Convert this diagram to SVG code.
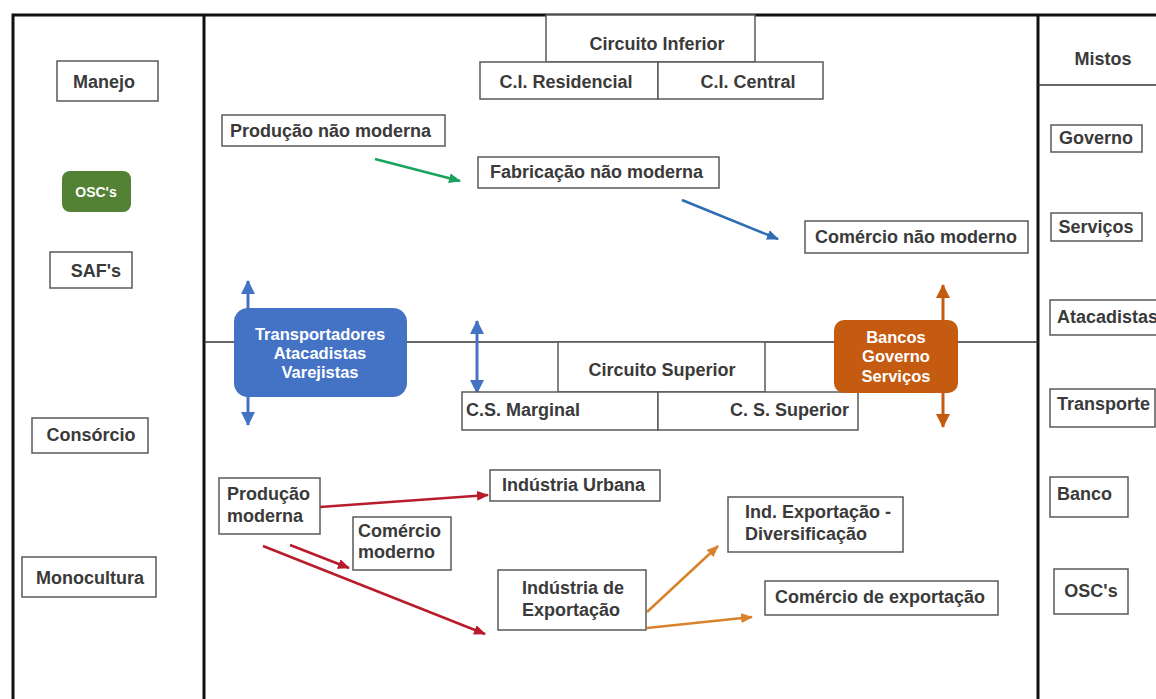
<svg xmlns="http://www.w3.org/2000/svg" width="1156" height="699" viewBox="0 0 1156 699">
<style>
.frame{stroke:#111;stroke-width:3;fill:none}
.thin{stroke:#333;stroke-width:1.5;fill:none}
.box{fill:#fff;stroke:#595959;stroke-width:1.5}
.t{font-family:"Liberation Sans",Arial,sans-serif;font-weight:bold;font-size:18px;fill:#3a3a3a}
.c{text-anchor:middle}
.w{font-family:"Liberation Sans",Arial,sans-serif;font-weight:bold;font-size:16.5px;fill:#fff;text-anchor:middle}
.a{fill:none;stroke-width:2.5}
</style>
<defs>
<marker id="mg" markerUnits="userSpaceOnUse" markerWidth="12" markerHeight="10" refX="11" refY="5" orient="auto"><path d="M0,0 L12,5 L0,10 z" fill="#1aa35c"/></marker>
<marker id="mb" markerUnits="userSpaceOnUse" markerWidth="12" markerHeight="10" refX="11" refY="5" orient="auto"><path d="M0,0 L12,5 L0,10 z" fill="#2e6db4"/></marker>
<marker id="mr" markerUnits="userSpaceOnUse" markerWidth="12" markerHeight="10" refX="11" refY="5" orient="auto"><path d="M0,0 L12,5 L0,10 z" fill="#b81c2a"/></marker>
<marker id="mo" markerUnits="userSpaceOnUse" markerWidth="12" markerHeight="10" refX="11" refY="5" orient="auto"><path d="M0,0 L12,5 L0,10 z" fill="#d9822b"/></marker>
<marker id="mlb" markerUnits="userSpaceOnUse" markerWidth="14" markerHeight="14" refX="13" refY="7" orient="auto-start-reverse"><path d="M0,0 L14,7 L0,14 z" fill="#4472c4"/></marker>
<marker id="mor" markerUnits="userSpaceOnUse" markerWidth="14" markerHeight="14" refX="13" refY="7" orient="auto-start-reverse"><path d="M0,0 L14,7 L0,14 z" fill="#c55a11"/></marker>
</defs>
<rect width="1156" height="699" fill="#fff"/>
<g id="frame">
<path class="frame" d="M13,699 V15 H1156"/>
<path class="frame" d="M204,15 V699"/>
<path class="frame" d="M1038,15 V699"/>
<path class="thin" d="M1038,85 H1156"/>
<path class="thin" d="M204,342 H1038"/>
</g>
<g id="connectors">
<line class="a" x1="375" y1="159" x2="460" y2="181" stroke="#1aa35c" marker-end="url(#mg)"/>
<line class="a" x1="682" y1="200" x2="778" y2="239" stroke="#2e6db4" marker-end="url(#mb)"/>
<line class="a" x1="320" y1="507" x2="488" y2="495" stroke="#b81c2a" marker-end="url(#mr)"/>
<line class="a" x1="290" y1="545" x2="349" y2="568" stroke="#b81c2a" marker-end="url(#mr)"/>
<line class="a" x1="263" y1="546" x2="485" y2="634" stroke="#b81c2a" marker-end="url(#mr)"/>
<line class="a" x1="647" y1="612" x2="718" y2="546" stroke="#d9822b" marker-end="url(#mo)"/>
<line class="a" x1="647" y1="628" x2="752" y2="617" stroke="#d9822b" marker-end="url(#mo)"/>
<line x1="248" y1="281" x2="248" y2="425" stroke="#4472c4" stroke-width="3" marker-start="url(#mlb)" marker-end="url(#mlb)"/>
<line x1="477" y1="321" x2="477" y2="393" stroke="#4472c4" stroke-width="3" marker-start="url(#mlb)" marker-end="url(#mlb)"/>
<line x1="943" y1="285" x2="943" y2="427" stroke="#c55a11" stroke-width="3" marker-start="url(#mor)" marker-end="url(#mor)"/>
</g>
<g id="circuito-inferior">
<rect class="box" x="546" y="15" width="209" height="47"/>
<text class="t c" x="657" y="50">Circuito Inferior</text>
</g>
<g id="ci-residencial">
<rect class="box" x="480" y="62" width="178" height="37"/>
<text class="t c" x="566" y="88">C.I. Residencial</text>
</g>
<g id="ci-central">
<rect class="box" x="658" y="62" width="165" height="37"/>
<text class="t c" x="748" y="88">C.I. Central</text>
</g>
<g id="producao-nao-moderna">
<rect class="box" x="222" y="115" width="223" height="31"/>
<text class="t" x="230" y="137">Produção não moderna</text>
</g>
<g id="fabricacao-nao-moderna">
<rect class="box" x="478" y="157" width="241" height="31"/>
<text class="t" x="490" y="178">Fabricação não moderna</text>
</g>
<g id="comercio-nao-moderno">
<rect class="box" x="805" y="221" width="223" height="32"/>
<text class="t" x="815" y="243">Comércio não moderno</text>
</g>
<g id="manejo">
<rect class="box" x="57" y="61" width="101" height="40"/>
<text class="t c" x="104" y="88">Manejo</text>
</g>
<g id="oscs-left">
<rect x="62" y="171" width="69" height="41" rx="8" fill="#548235"/>
<text x="96" y="197" font-family="Liberation Sans,Arial,sans-serif" font-weight="bold" font-size="14" fill="#fff" text-anchor="middle">OSC's</text>
</g>
<g id="safs">
<rect class="box" x="50" y="252" width="82" height="36"/>
<text class="t c" x="96" y="277">SAF's</text>
</g>
<g id="consorcio">
<rect class="box" x="32" y="418" width="116" height="35"/>
<text class="t c" x="91" y="441">Consórcio</text>
</g>
<g id="monocultura">
<rect class="box" x="22" y="557" width="134" height="40"/>
<text class="t c" x="90" y="584">Monocultura</text>
</g>
<g id="transportadores">
<rect x="234" y="308" width="173" height="89" rx="14" fill="#4472c4"/>
<text class="w" x="320" y="340">Transportadores</text>
<text class="w" x="320" y="359">Atacadistas</text>
<text class="w" x="320" y="378">Varejistas</text>
</g>
<g id="circuito-superior">
<rect class="box" x="558" y="342" width="207" height="50"/>
<text class="t c" x="662" y="376">Circuito Superior</text>
</g>
<g id="cs-marginal">
<rect class="box" x="462" y="392" width="196" height="38"/>
<text class="t" x="466" y="416">C.S. Marginal</text>
</g>
<g id="cs-superior">
<rect class="box" x="658" y="392" width="200" height="38"/>
<text class="t" x="849" y="416" text-anchor="end">C. S. Superior</text>
</g>
<g id="bancos">
<rect x="834" y="320" width="124" height="73" rx="10" fill="#c55a11"/>
<text class="w" x="896" y="343">Bancos</text>
<text class="w" x="896" y="362">Governo</text>
<text class="w" x="896" y="382">Serviços</text>
</g>
<g id="producao-moderna">
<rect class="box" x="219" y="478" width="101" height="56"/>
<text class="t" x="227" y="500">Produção</text>
<text class="t" x="227" y="522">moderna</text>
</g>
<g id="comercio-moderno">
<rect class="box" x="353" y="517" width="98" height="53"/>
<text class="t" x="358" y="537">Comércio</text>
<text class="t" x="358" y="558">moderno</text>
</g>
<g id="industria-urbana">
<rect class="box" x="490" y="470" width="170" height="31"/>
<text class="t" x="502" y="491">Indústria Urbana</text>
</g>
<g id="industria-exportacao">
<rect class="box" x="498" y="570" width="148" height="60"/>
<text class="t" x="522" y="594">Indústria de</text>
<text class="t" x="522" y="616">Exportação</text>
</g>
<g id="ind-exportacao-diversificacao">
<rect class="box" x="728" y="497" width="175" height="55"/>
<text class="t" x="745" y="518">Ind. Exportação -</text>
<text class="t" x="745" y="540">Diversificação</text>
</g>
<g id="comercio-exportacao">
<rect class="box" x="765" y="581" width="233" height="34"/>
<text class="t" x="775" y="603">Comércio de exportação</text>
</g>
<g id="mistos">
<text class="t c" x="1103" y="65">Mistos</text>
</g>
<g id="governo">
<rect class="box" x="1051" y="125" width="91" height="27"/>
<text class="t c" x="1096" y="144">Governo</text>
</g>
<g id="servicos">
<rect class="box" x="1051" y="213" width="91" height="28"/>
<text class="t c" x="1096" y="233">Serviços</text>
</g>
<g id="atacadistas">
<rect class="box" x="1050" y="300" width="110" height="35"/>
<text class="t" x="1057" y="323">Atacadistas</text>
</g>
<g id="transporte">
<rect class="box" x="1050" y="389" width="105" height="38"/>
<text class="t" x="1057" y="410">Transporte</text>
</g>
<g id="banco">
<rect class="box" x="1050" y="477" width="78" height="40"/>
<text class="t" x="1057" y="500">Banco</text>
</g>
<g id="oscs-right">
<rect class="box" x="1054" y="569" width="74" height="45"/>
<text class="t c" x="1091" y="597">OSC's</text>
</g>
</svg>
